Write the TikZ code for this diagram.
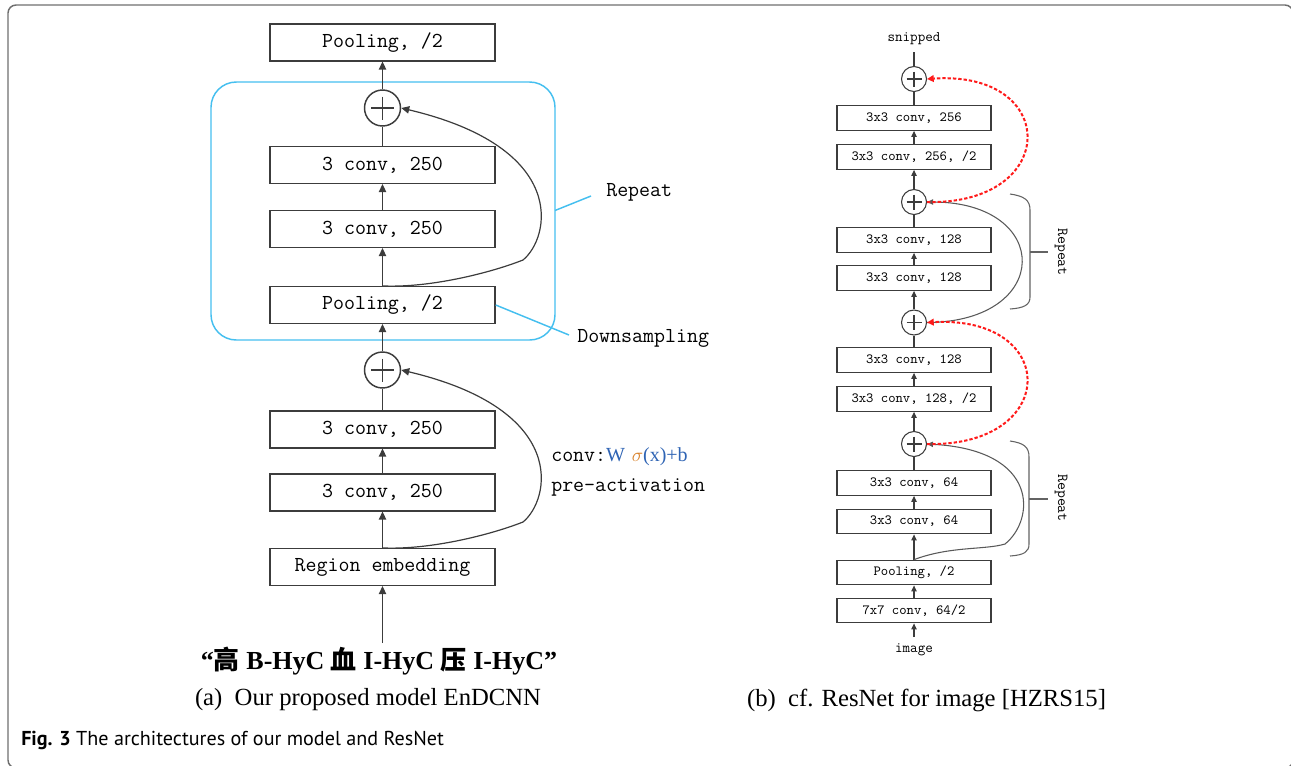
\documentclass[tikz,border=0pt]{standalone}
\usepackage{fontspec}
\setmainfont{Liberation Serif}
\newfontfamily\cjkfont{Noto Sans CJK SC}
\newfontfamily\capfont{PT Sans}
\usetikzlibrary{arrows.meta}
\definecolor{linec}{HTML}{3C3C3C}
\definecolor{cyanb}{HTML}{45BFEF}
\definecolor{framec}{HTML}{6E6E6E}
\definecolor{wblue}{HTML}{2F64B4}
\definecolor{sorange}{HTML}{D9822B}
\definecolor{redd}{HTML}{FF1A1A}
\begin{document}
\begin{tikzpicture}[x=0.75pt,y=-0.75pt,
 lbox/.style={draw=linec, line width=1.1pt, minimum width=168.75pt, minimum height=27.5pt, inner sep=0pt, font=\fontsize{16}{18}\selectfont\ttfamily},
 rbox/.style={draw=linec, line width=0.8pt, minimum width=115.5pt, minimum height=18.5pt, inner sep=0pt, font=\fontsize{10.5}{12}\selectfont\ttfamily},
 lplus/.style={circle, draw=linec, line width=1.1pt, minimum size=27pt, inner sep=0pt},
 rplus/.style={circle, draw=linec, line width=0.8pt, minimum size=18.75pt, inner sep=0pt},
 larr/.style={draw=linec, line width=1.1pt, -{Triangle[length=6pt,width=5.5pt]}},
 lln/.style={draw=linec, line width=1.1pt},
 thinp/.style={draw=linec, line width=0.8pt},
 rarr/.style={draw=linec, line width=0.8pt, -{Triangle[length=4.5pt,width=4pt]}},
 rln/.style={draw=linec, line width=0.8pt},
 skipl/.style={draw=linec, line width=0.9pt, -{Triangle[length=6pt,width=5.5pt]}},
 skipr/.style={draw=linec!85, line width=0.8pt, -{Triangle[length=4.5pt,width=4pt]}},
 reddot/.style={draw=redd, line width=1.5pt, dash pattern=on 2.5pt off 1.5pt, -{Triangle[length=5pt,width=5pt]}},
 cyanl/.style={draw=cyanb, line width=1.1pt},
 lab/.style={font=\fontsize{16}{18}\selectfont\ttfamily, inner sep=0pt},
 rlab/.style={font=\fontsize{11}{12}\selectfont\ttfamily, inner sep=0pt},
 brace/.style={draw=linec!80, line width=0.8pt},
]
\useasboundingbox (0,0) rectangle (1291,765);
% outer frame
\draw[framec, line width=1.1pt, rounded corners=6pt] (8,5) rectangle (1293,768);

% ---------------- left panel ----------------
\draw[cyanl, rounded corners=19pt] (211,82) rectangle (555,340);

\node[lbox] (lptop) at (382.5,42.5) {Pooling, /2};
\node[lplus] (lplus1) at (382.5,108) {};
\node[lbox] (lc1) at (382.5,165) {3 conv, 250};
\node[lbox] (lc2) at (382.5,229) {3 conv, 250};
\node[lbox] (lpool) at (382.5,305) {Pooling, /2};
\node[lplus] (lplus2) at (382.5,370) {};
\node[lbox] (lc3) at (382.5,429.5) {3 conv, 250};
\node[lbox] (lc4) at (382.5,492.5) {3 conv, 250};
\node[lbox] (lreg) at (382.5,567) {Region embedding};
\node[inner sep=0pt, font=\bfseries\fontsize{19.5}{21}\selectfont] (inp) at (379,661)
  {“{\cjkfont 高} B-HyC {\cjkfont 血} I-HyC {\cjkfont 压} I-HyC”};

\foreach \n in {lplus1,lplus2}{
  \draw[thinp] (\n.center) ++(-11.5,0) -- ++(23,0);
  \draw[thinp] (\n.center) ++(0,-11.5) -- ++(0,23);
}

\draw[larr] (lplus1) -- (lptop);
\draw[lln] (lc1) -- (lplus1);
\draw[larr] (lc2) -- (lc1);
\draw[larr] (lpool) -- (lc2);
\draw[larr] (lplus2) -- (lpool);
\draw[lln] (lc3) -- (lplus2);
\draw[larr] (lc4) -- (lc3);
\draw[larr] (lreg) -- (lc4);
\coordinate (inpt) at (382.5,643);
\draw[larr] (inpt) -- (lreg);

% skip connections left
\draw[skipl] (lpool.north) .. controls (430,288) and (490,273) .. (523,260)
   .. controls (550,238) and (570,148) .. (lplus1.east);
\draw[skipl] (lreg.north) .. controls (430,550) and (490,535) .. (523,522)
   .. controls (550,500) and (570,410) .. (lplus2.east);

% labels
\node[lab, anchor=west] (repeatl) at (606,192) {Repeat};
\coordinate (rpA) at (555,210.5);
\coordinate (rpB) at (591,196);
\draw[cyanl] (rpA) -- (rpB);
\node[lab, anchor=west] (down) at (577,338.5) {Downsampling};
\coordinate (dsB) at (569,335);
\draw[cyanl] (lpool.east) -- (dsB);
\node[lab, anchor=west] (convl) at (551,457) {conv:{\rmfamily\fontsize{15}{17}\selectfont\textcolor{wblue}{W}\,\,\textcolor{sorange}{$\sigma$}\textcolor{wblue}{(x)+b}}};
\node[lab, anchor=west] (preact) at (551,487) {pre-activation};

% ---------------- right panel ----------------
\node[rlab] (snip) at (914,38.5) {snipped};
\node[rplus] (rplus1) at (914,79) {};
\node[rbox] (r256a) at (914,118) {3x3 conv, 256};
\node[rbox] (r256b) at (914,157) {3x3 conv, 256, /2};
\node[rplus] (rplus2) at (914,202) {};
\node[rbox] (r128a) at (914,240) {3x3 conv, 128};
\node[rbox] (r128b) at (914,278) {3x3 conv, 128};
\node[rplus] (rplus3) at (914,322.5) {};
\node[rbox] (r128c) at (914,360) {3x3 conv, 128};
\node[rbox] (r128d) at (914,399) {3x3 conv, 128, /2};
\node[rplus] (rplus4) at (914,444) {};
\node[rbox] (r64a) at (914,483) {3x3 conv, 64};
\node[rbox] (r64b) at (914,521.5) {3x3 conv, 64};
\node[rbox] (rpool) at (914,572.5) {Pooling, /2};
\node[rbox] (r7) at (914,610.5) {7x7 conv, 64/2};
\node[rlab] (img) at (914,650) {image};

\foreach \n in {rplus1,rplus2,rplus3,rplus4}{
  \draw[rln] (\n.center) ++(-7.5,0) -- ++(15,0);
  \draw[rln] (\n.center) ++(0,-7.5) -- ++(0,15);
}

\coordinate (snipb) at (914,52);
\draw[rln] (snipb) -- (rplus1);
\draw[rln] (r256a) -- (rplus1);
\draw[rarr] (r256b) -- (r256a);
\draw[rarr] (rplus2) -- (r256b);
\draw[rln] (r128a) -- (rplus2);
\draw[rarr] (r128b) -- (r128a);
\draw[rarr] (rplus3) -- (r128b);
\draw[rln] (r128c) -- (rplus3);
\draw[rarr] (r128d) -- (r128c);
\draw[rarr] (rplus4) -- (r128d);
\draw[rln] (r64a) -- (rplus4);
\draw[rarr] (r64b) -- (r64a);
\draw[rarr] (rpool) -- (r64b);
\draw[rarr] (r7) -- (rpool);
\coordinate (imgt) at (914,637);
\draw[rarr] (imgt) -- (r7);

% shortcuts
\draw[skipr] (rplus3.east) .. controls (1053,322) and (1053,202) .. (rplus2.east);
\draw[skipr] (rpool.north) .. controls (950,546) and (985,550) .. (1005,544)
   .. controls (1035,520) and (1040,450) .. (rplus4.east);
\draw[reddot] (rplus2.east) .. controls (1060,205) and (1060,70) .. (rplus1.east);
\draw[reddot] (rplus4.east) .. controls (1060,447) and (1060,315) .. (rplus3.east);

% braces
\draw[brace] (1010,194) .. controls (1024,196) and (1030,200) .. (1030,210) -- (1030,297) .. controls (1030,305) and (1024,308) .. (1010,309);
\coordinate (b1a) at (1030,252); \coordinate (b1b) at (1048,252);
\draw[brace] (b1a) -- (b1b);
\node[rlab, font=\fontsize{11.5}{12}\selectfont\ttfamily, rotate=-90] (rep1) at (1061,252) {Repeat};
\draw[brace] (1010,441) .. controls (1024,443) and (1029,447) .. (1029,457) -- (1029,544) .. controls (1029,552) and (1024,555) .. (1010,556);
\coordinate (b2a) at (1029,499); \coordinate (b2b) at (1048,499);
\draw[brace] (b2a) -- (b2b);
\node[rlab, font=\fontsize{11.5}{12}\selectfont\ttfamily, rotate=-90] (rep2) at (1061,498) {Repeat};

% captions
\node[font=\fontsize{18.5}{20}\selectfont] (capa) at (368,700) {(a)\ \ Our proposed model EnDCNN};
\node[font=\fontsize{18.5}{20}\selectfont] (capb) at (926.5,700) {(b)\ \ cf. ResNet for image [HZRS15]};
\node[anchor=west, inner sep=0pt, font=\capfont\fontsize{15.1}{17}\selectfont] (fig) at (21,740) {\textbf{Fig. 3} The architectures of our model and ResNet};
\end{tikzpicture}
\end{document}
